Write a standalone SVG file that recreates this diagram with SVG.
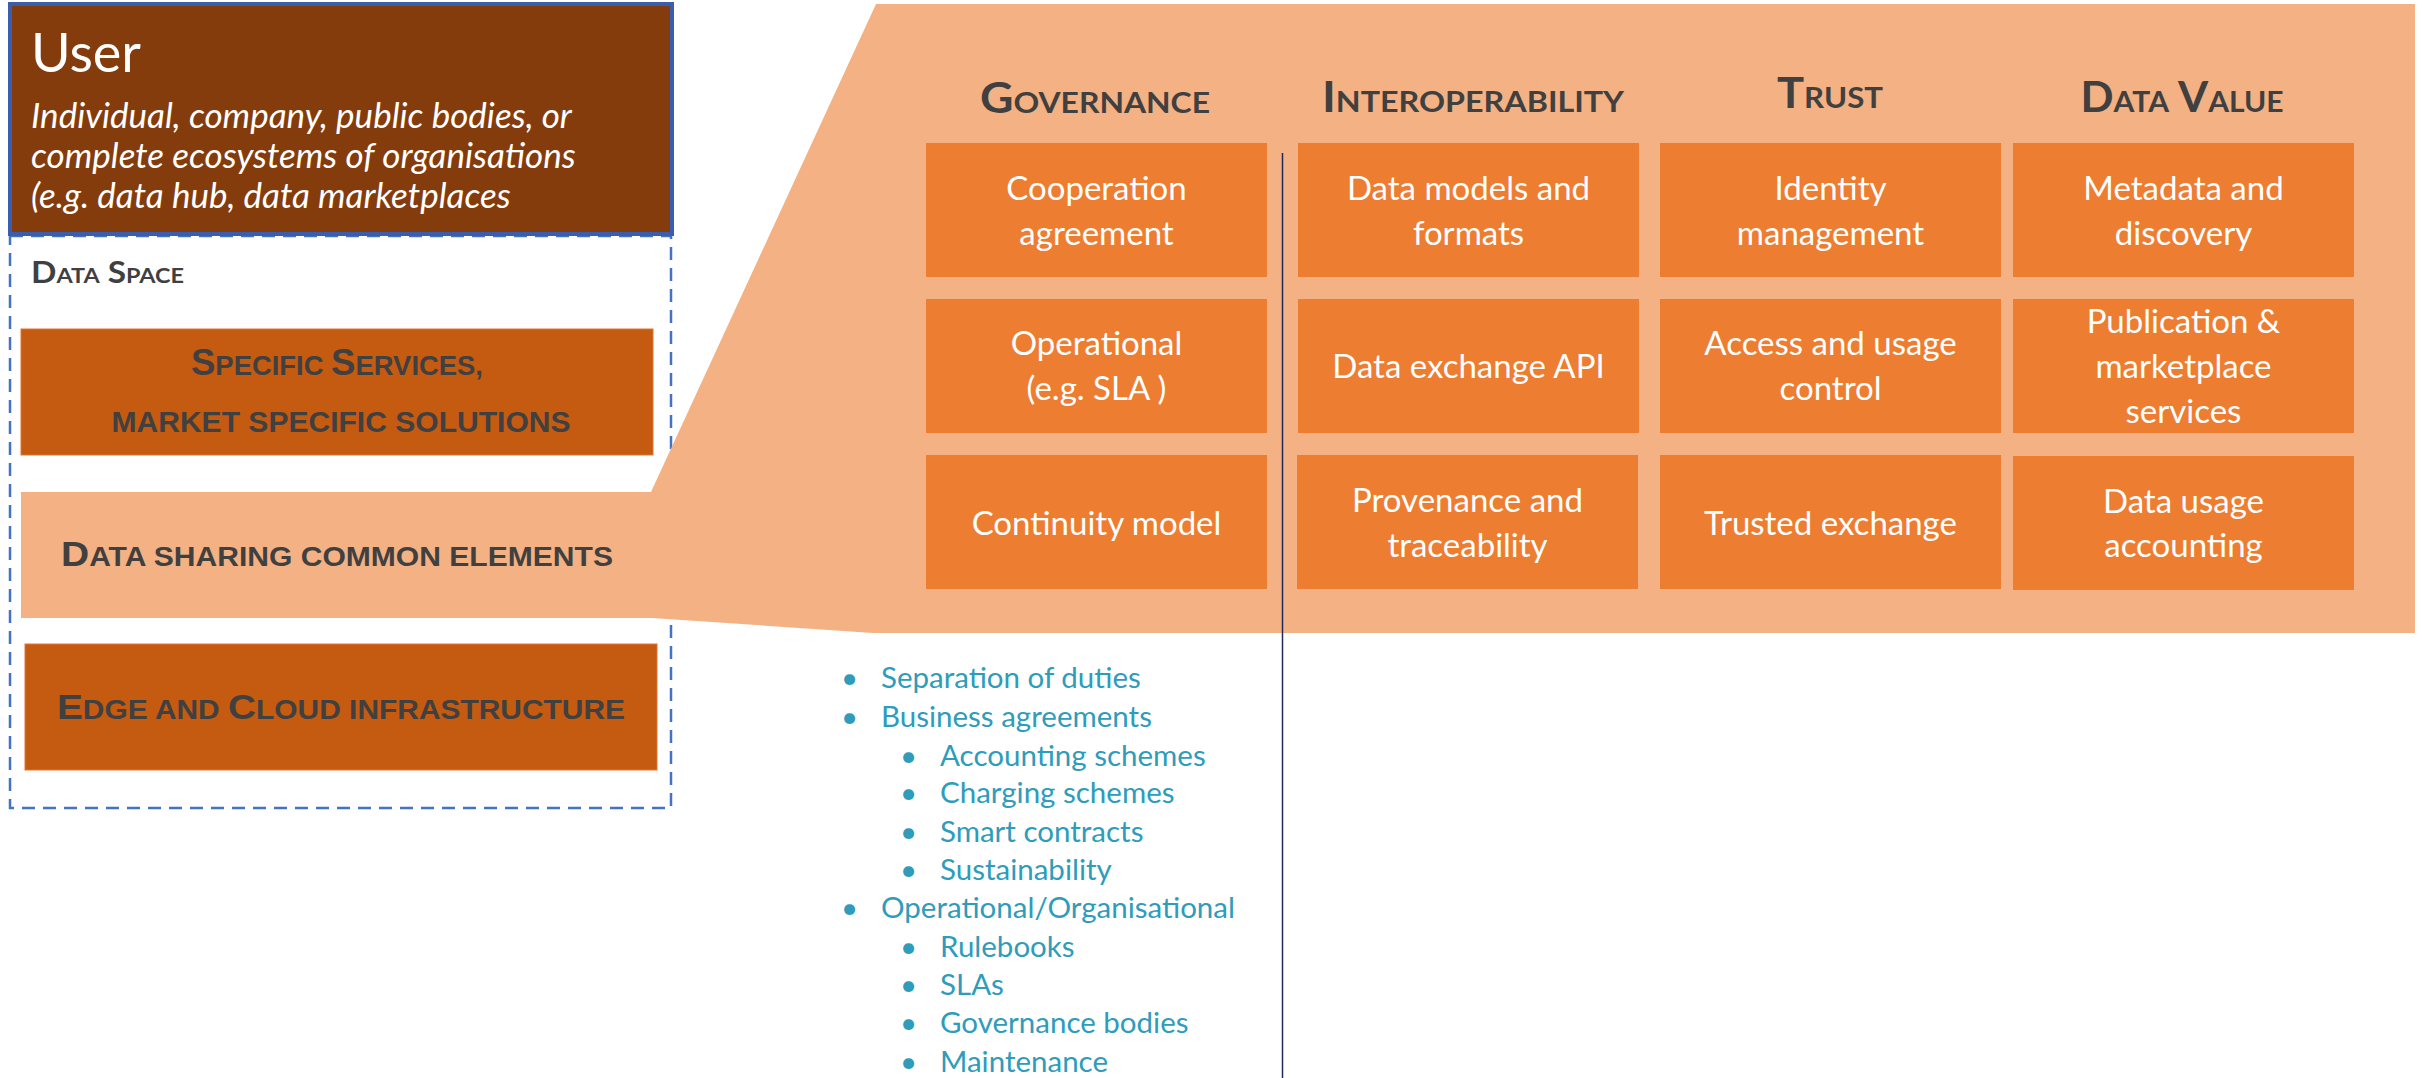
<svg xmlns="http://www.w3.org/2000/svg" width="2422" height="1078" viewBox="0 0 2422 1078">
<style>
.cell{fill:#ED7D31}
.ct{font-family:Lato,"Open Sans","Liberation Sans",sans-serif;font-size:33px;fill:#FFFFFF;text-anchor:middle}
.hd{font-family:Lato,"Liberation Sans",sans-serif;font-weight:bold;font-size:42px;fill:#404040;text-anchor:middle;font-variant:small-caps}
.lt{font-family:"Liberation Sans",Arial,sans-serif;font-weight:bold;fill:#404040}
.bl{font-family:Lato,"Open Sans","Liberation Sans",sans-serif;font-size:29.5px;fill:#2E9CBA}
.dark{fill:#C55A11;stroke:#E07536;stroke-width:1}
</style>
<rect width="2422" height="1078" fill="#FFFFFF"/>

<g id="data-space">
<rect x="10" y="236" width="661" height="572" fill="none" stroke="#4472C4" stroke-width="2.5" stroke-dasharray="13 8"/>
<text x="31" y="283" font-family="Lato,'Liberation Sans',sans-serif" font-weight="bold" font-size="30" fill="#404040" style="font-variant:small-caps" textLength="153" lengthAdjust="spacingAndGlyphs">Data Space</text>
</g>

<g id="user">
<rect x="10" y="4" width="662" height="230" fill="#843C0C" stroke="#3A5DAE" stroke-width="4"/>
<text x="31" y="72" font-family="Lato,'Open Sans',sans-serif" font-size="54" fill="#FFFFFF">User</text>
<g font-family="Lato,'Open Sans',sans-serif" font-style="italic" font-size="35" fill="#FFFFFF">
<text x="31" y="128">Individual, company, public bodies, or</text>
<text x="31" y="168">complete ecosystems of organisations</text>
<text x="31" y="208">(e.g. data hub, data marketplaces</text>
</g>
</g>

<g id="specific-services">
<rect class="dark" x="21" y="329" width="632" height="126"/>
<text class="lt" x="337" y="375" font-size="36" text-anchor="middle" textLength="292" lengthAdjust="spacingAndGlyphs">S<tspan font-size="27">PECIFIC </tspan>S<tspan font-size="27">ERVICES,</tspan></text>
<text class="lt" x="341" y="432" font-size="29" text-anchor="middle" textLength="459" lengthAdjust="spacingAndGlyphs">MARKET SPECIFIC SOLUTIONS</text>
</g>

<g id="common-elements">
<path d="M21,492 L651,492 L876,4 L2415,4 L2415,633 L873,633 L652,618 L21,618 Z" fill="#F4B183"/>
<text class="lt" x="61" y="566" font-size="35" textLength="552" lengthAdjust="spacingAndGlyphs">D<tspan font-size="27">ATA SHARING COMMON ELEMENTS</tspan></text>
</g>

<g id="edge-cloud">
<rect class="dark" x="25" y="644" width="632" height="126"/>
<text class="lt" x="341" y="719" font-size="35" text-anchor="middle" textLength="568" lengthAdjust="spacingAndGlyphs">E<tspan font-size="27">DGE AND </tspan>C<tspan font-size="27">LOUD INFRASTRUCTURE</tspan></text>
</g>

<g id="headers">
<text class="hd" x="1095" y="113" textLength="230" lengthAdjust="spacingAndGlyphs">Governance</text>
<text class="hd" x="1473" y="112" textLength="302" lengthAdjust="spacingAndGlyphs">Interoperability</text>
<text class="hd" x="1830" y="108" textLength="106" lengthAdjust="spacingAndGlyphs">Trust</text>
<text class="hd" x="2182" y="112" textLength="203" lengthAdjust="spacingAndGlyphs">Data Value</text>
</g>

<g id="cooperation-agreement"><rect class="cell" x="926" y="143" width="341" height="134"/>
<text class="ct" x="1096.5" y="200">Cooperation</text><text class="ct" x="1096.5" y="245">agreement</text></g>
<g id="operational"><rect class="cell" x="926" y="299" width="341" height="134"/>
<text class="ct" x="1096.5" y="355">Operational</text><text class="ct" x="1096.5" y="400">(e.g. SLA )</text></g>
<g id="continuity-model"><rect class="cell" x="926" y="455" width="341" height="134"/>
<text class="ct" x="1096.5" y="535">Continuity model</text></g>

<g id="data-models"><rect class="cell" x="1298" y="143" width="341" height="134"/>
<text class="ct" x="1468.5" y="200">Data models and</text><text class="ct" x="1468.5" y="245">formats</text></g>
<g id="data-exchange-api"><rect class="cell" x="1298" y="299" width="341" height="134"/>
<text class="ct" x="1468.5" y="378">Data exchange API</text></g>
<g id="provenance"><rect class="cell" x="1297" y="455" width="341" height="134"/>
<text class="ct" x="1467.5" y="512">Provenance and</text><text class="ct" x="1467.5" y="557">traceability</text></g>

<g id="identity-management"><rect class="cell" x="1660" y="143" width="341" height="134"/>
<text class="ct" x="1830.5" y="200">Identity</text><text class="ct" x="1830.5" y="245">management</text></g>
<g id="access-usage-control"><rect class="cell" x="1660" y="299" width="341" height="134"/>
<text class="ct" x="1830.5" y="355">Access and usage</text><text class="ct" x="1830.5" y="400">control</text></g>
<g id="trusted-exchange"><rect class="cell" x="1660" y="455" width="341" height="134"/>
<text class="ct" x="1830.5" y="535">Trusted exchange</text></g>

<g id="metadata-discovery"><rect class="cell" x="2013" y="143" width="341" height="134"/>
<text class="ct" x="2183.5" y="200">Metadata and</text><text class="ct" x="2183.5" y="245">discovery</text></g>
<g id="publication-marketplace"><rect class="cell" x="2013" y="299" width="341" height="134"/>
<text class="ct" x="2183.5" y="333">Publication &amp;</text><text class="ct" x="2183.5" y="378">marketplace</text><text class="ct" x="2183.5" y="423">services</text></g>
<g id="data-usage-accounting"><rect class="cell" x="2013" y="456" width="341" height="134"/>
<text class="ct" x="2183.5" y="513">Data usage</text><text class="ct" x="2183.5" y="557">accounting</text></g>

<g id="connectors">
<line x1="1282.5" y1="153" x2="1282.5" y2="1078" stroke="#1F2A5C" stroke-width="1.5"/>
</g>

<g id="governance-details" class="bl">
<text x="841" y="688">•</text><text x="881" y="688">Separation of duties</text>
<text x="841" y="727">•</text><text x="881" y="727">Business agreements</text>
<text x="900" y="766">•</text><text x="940" y="766">Accounting schemes</text>
<text x="900" y="803">•</text><text x="940" y="803">Charging schemes</text>
<text x="900" y="842">•</text><text x="940" y="842">Smart contracts</text>
<text x="900" y="880">•</text><text x="940" y="880">Sustainability</text>
<text x="841" y="918">•</text><text x="881" y="918">Operational/Organisational</text>
<text x="900" y="957">•</text><text x="940" y="957">Rulebooks</text>
<text x="900" y="995">•</text><text x="940" y="995">SLAs</text>
<text x="900" y="1033">•</text><text x="940" y="1033">Governance bodies</text>
<text x="900" y="1072">•</text><text x="940" y="1072">Maintenance</text>
</g>
</svg>
